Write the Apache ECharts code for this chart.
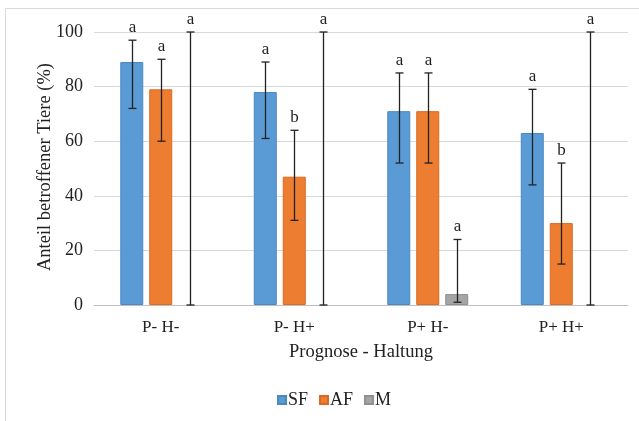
<!DOCTYPE html>
<html><head><meta charset="utf-8">
<script src="https://cdn.jsdelivr.net/npm/echarts@6/dist/echarts.min.js"></script>
<style>html,body{margin:0;padding:0;background:#fff}#c{width:639px;height:421px}</style>
</head><body><div id="c"></div>
<script>
const categories = ['P- H-', 'P- H+', 'P+ H-', 'P+ H+'];
const seriesNames = ['SF', 'AF', 'M'];
const sfValues = [89, 78, 71, 63];
const afValues = [79, 47, 71, 30];
const mValues = [0, 0, 4, 0];
const sfLow = [72, 61, 52, 44];
const sfHigh = [97, 89, 85, 79];
const afLow = [60, 31, 52, 15];
const afHigh = [90, 64, 85, 52];
const mLow = [0, 0, 1, 0];
const mHigh = [100, 100, 24, 100];
const sfLetters = ['a', 'a', 'a', 'a'];
const afLetters = ['a', 'b', 'a', 'b'];
const mLetters = ['a', 'a', 'a', 'a'];
const yTicks = [0, 20, 40, 60, 80, 100];
const yAxisTitle = 'Anteil betroffener Tiere (%)';
const xAxisTitle = 'Prognose - Haltung';

const colors = ['#5B9BD5', '#ED7D31', '#A5A5A5'];
const borders = ['#4a88c2', '#d96b22', '#909090'];
const values = [sfValues, afValues, mValues];
const lows = [sfLow, afLow, mLow];
const highs = [sfHigh, afHigh, mHigh];
const letters = [sfLetters, afLetters, mLetters];
const BW = 23, STEP = 29;
const font = '"Liberation Serif", "DejaVu Serif", serif';

const chart = echarts.init(document.getElementById('c'));
const series = [];
seriesNames.forEach((n, i) => {
  series.push({
    name: n, type: 'bar', barWidth: BW, barGap: '26%',
    data: values[i].map(v => ({ value: v, itemStyle: { borderWidth: v > 0 ? 1 : 0 } })),
    itemStyle: { color: colors[i], borderColor: borders[i], borderWidth: 1 }
  });
});
seriesNames.forEach((n, i) => {
  const data = categories.map((c, k) => [k, lows[i][k], highs[i][k]]);
  series.push({
    type: 'custom', name: n + '_err', data: data, z: 10, silent: true,
    renderItem: function (params, api) {
      const k = api.value(0);
      const lo = api.coord([k, api.value(1)]);
      const hi = api.coord([k, api.value(2)]);
      const x = Math.round(lo[0] + (i - 1) * STEP) + 0.5;
      const cap = 4;
      return {
        type: 'group', children: [
          { type: 'line', shape: { x1: x, y1: lo[1], x2: x, y2: hi[1] }, style: { stroke: '#222', lineWidth: 1.3 } },
          { type: 'line', shape: { x1: x - cap, y1: lo[1], x2: x + cap, y2: lo[1] }, style: { stroke: '#222', lineWidth: 1.3 } },
          { type: 'line', shape: { x1: x - cap, y1: hi[1], x2: x + cap, y2: hi[1] }, style: { stroke: '#222', lineWidth: 1.3 } },
          { type: 'text', x: x, y: hi[1] - 4, style: { text: letters[i][k], fill: '#222', font: '17px ' + font, textAlign: 'center', textVerticalAlign: 'bottom' } }
        ]
      };
    }
  });
});

chart.setOption({
  animation: false,
  color: colors,
  textStyle: { fontFamily: font },
  graphic: [
    { type: 'rect', shape: { x: 5.5, y: 8.5, width: 700, height: 500 }, style: { fill: null, stroke: '#d9d9d9', lineWidth: 1 }, z: -1 },
    { type: 'text', x: 45, y: 167, rotation: Math.PI / 2,
      style: { text: yAxisTitle, fill: '#222', font: '18.5px ' + font, textAlign: 'center', textVerticalAlign: 'middle' } }
  ],
  grid: { left: 94, right: 11, top: 32, bottom: 116 },
  legend: {
    data: seriesNames, top: 386, left: 272, itemWidth: 8, itemHeight: 8, itemGap: 11,
    icon: 'rect', textStyle: { fontFamily: font, fontSize: 18, color: '#222', padding: [0, 0, 0, -3] }
  },
  xAxis: {
    type: 'category', data: categories,
    name: xAxisTitle, nameLocation: 'middle', nameGap: 38,
    nameTextStyle: { fontFamily: font, fontSize: 18.5, color: '#222' },
    axisLine: { lineStyle: { color: '#bfbfbf' } }, axisTick: { show: false },
    axisLabel: { fontFamily: font, fontSize: 17, color: '#222', margin: 14 }
  },
  yAxis: {
    type: 'value', min: 0, max: 100, interval: 20,
    axisLine: { show: false }, axisTick: { show: false },
    axisLabel: { fontFamily: font, fontSize: 18, color: '#222', margin: 11,
      formatter: v => yTicks.includes(v) ? String(v) : '' },
    splitLine: { lineStyle: { color: '#d9d9d9' } }
  },
  series: series
});
</script></body></html>
